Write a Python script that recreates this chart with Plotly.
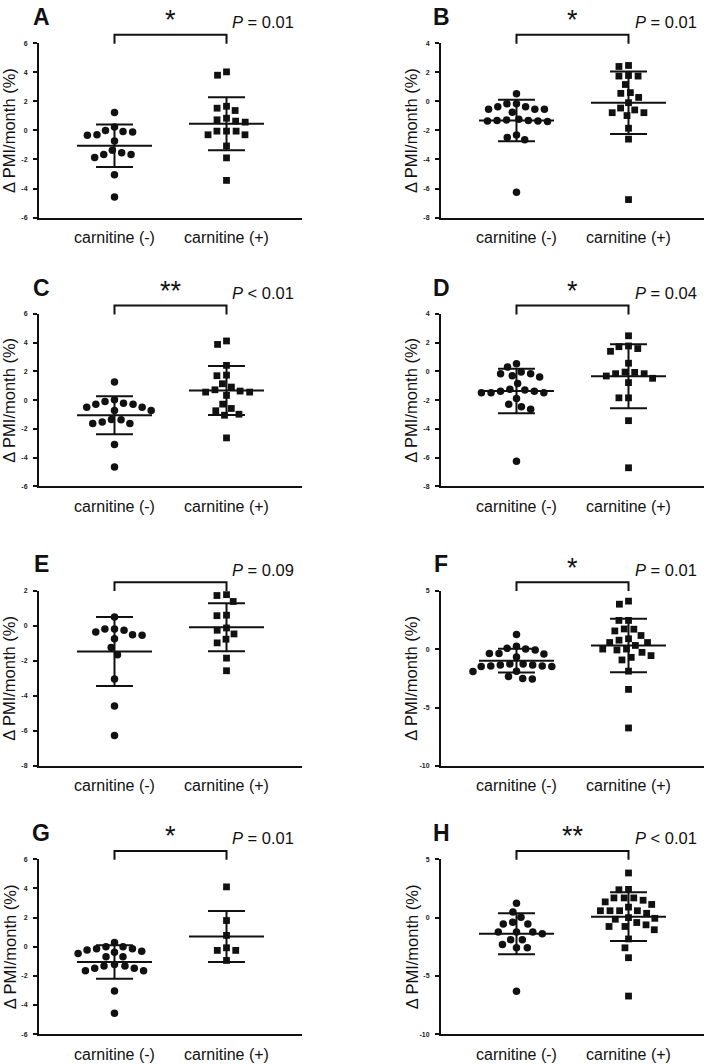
import numpy as np
import plotly.graph_objects as go

W, H = 709, 1064

# ---------------- data ----------------
categories = ["carnitine (-)", "carnitine (+)"]
panel_labels = ["A", "B", "C", "D", "E", "F", "G", "H"]
p_texts = ["= 0.01", "= 0.01", "< 0.01", "= 0.04", "= 0.09", "= 0.01", "= 0.01", "< 0.01"]
stars = ["*", "*", "**", "*", "", "*", "*", "**"]
y_ranges = [(-6, 6), (-8, 4), (-6, 6), (-8, 4), (-8, 2), (-10, 5), (-6, 6), (-10, 5)]
y_dticks = [2, 2, 2, 2, 2, 5, 2, 5]
y_title = "Δ PMI/month (%)"

A_minus = [1.23, -0.11, -0.34, 0.0, 0.23, -0.30, -0.07, -0.73, -1.37, -1.66, -1.87, -1.66, -1.53, -3.05, -4.58]
A_plus = [3.80, 4.03, 1.53, 1.66, 1.37, 0.57, 0.84, 0.64, 0.73, -0.30, -0.05, -0.05, -0.05, -0.30, -1.07, -1.89, -3.44]
B_minus = [0.53, -0.16, -0.37, -0.55, -0.55, -0.75, -0.55, -0.37, -0.16, -1.23, -1.32, -1.35, -1.38, -1.35, -1.32, -1.28, -2.49, -2.31, -2.65, -6.26]
B_plus = [2.47, 2.40, 1.78, 1.74, 1.74, 1.16, 0.55, 0.60, 0.27, -0.09, -0.59, -0.78, -0.98, -0.78, -0.46, -1.85, -2.60, -6.76]
C_minus = [1.26, 0.02, -0.09, -0.28, -0.49, -0.72, -0.72, -0.49, -0.28, -0.21, -1.35, -1.53, -1.63, -1.63, -1.37, -3.09, -4.65]
C_plus = [4.12, 3.88, 2.42, 1.70, 1.74, 1.14, 0.72, 0.56, 0.33, 0.56, 0.63, 0.91, -0.58, -0.98, -1.05, -0.74, -0.28, -2.63]
D_minus = [0.30, 0.53, -0.16, -0.30, -0.39, -0.16, -0.05, -0.85, -1.24, -1.38, -1.49, -1.49, -1.49, -1.38, -1.29, -1.89, -2.46, -2.28, -2.64, -6.25]
D_plus = [2.48, 1.77, 1.59, 1.40, 1.72, 0.57, -0.16, -0.48, -0.07, -0.32, -0.05, -0.16, -0.78, -1.84, -1.84, -3.43, -6.71]
E_minus = [0.49, -0.19, -0.26, -0.51, -0.74, -0.55, -0.36, -0.19, -1.25, -1.66, -3.04, -4.58, -6.26]
E_plus = [1.72, 1.77, 1.38, 0.57, 0.60, -0.13, -0.26, -0.47, -0.77, -0.98, -1.85, -2.57]
F_minus = [1.24, 0.06, -0.08, -0.37, 0.25, -0.42, -0.37, 0.00, -0.68, -1.27, -1.36, -1.44, -1.50, -1.50, -1.44, -1.36, -1.27, -1.92, -1.89, -2.34, -2.57, -2.51]
F_plus = [4.10, 3.84, 2.45, 2.45, 1.70, 1.55, 1.72, 1.16, 0.88, 0.56, 0.31, 0.56, 0.76, 0.00, -0.08, -0.28, 0.00, -0.56, -0.93, -0.71, -1.89, -3.45, -6.75]
G_minus = [0.30, -0.14, -0.23, -0.37, 0.00, 0.00, -0.46, -0.30, -0.14, -0.68, -0.68, -1.21, -1.32, -1.48, -1.64, -1.64, -1.48, -1.32, -3.04, -4.57]
G_plus = [4.11, 1.80, 0.78, -0.25, -0.07, -0.25, -0.94]
H_minus = [1.24, 0.48, 0.03, -0.54, -0.54, -0.39, -1.24, -1.24, -1.38, -1.24, -1.89, -1.89, -2.59, -2.59, -2.31, -6.31]
H_plus = [3.83, 2.39, 2.42, 1.13, 1.69, 1.49, 1.35, 1.69, 1.69, 0.59, 0.59, 0.90, 0.59, 0.59, -0.06, 0.37, -0.14, 0.00,
          -0.42, -0.76, -0.76, -1.04, -0.62, -1.83, -2.59, -3.44, -6.73]

mean_minus = [-1.05, -1.32, -1.05, -1.36, -1.47, -0.99, -1.05, -1.38]
sd_minus = [1.46, 1.43, 1.32, 1.55, 1.97, 1.01, 1.15, 1.76]
mean_plus = [0.46, -0.09, 0.67, -0.34, -0.09, 0.31, 0.71, 0.08]
sd_plus = [1.82, 2.15, 1.71, 2.23, 1.37, 2.29, 1.75, 2.09]

minus_groups = [A_minus, B_minus, C_minus, D_minus, E_minus, F_minus, G_minus, H_minus]
plus_groups = [A_plus, B_plus, C_plus, D_plus, E_plus, F_plus, G_plus, H_plus]

# ---------------- layout geometry (pixels) ----------------
col_x = [(39, 302), (441, 704)]
row_y = [(39.5, 215), (312, 485.5), (590.5, 767), (861, 1037)]
X_RANGE = (-0.674, 1.674)
FONT = "Liberation Sans, Arial, sans-serif"
INK = "#111111"


def py(px):
    return 1 - px / H


def px_x(px):
    return px / W


def swarm(values, ppu_y, ppu_x, d=9.6):
    vals = np.asarray(values, dtype=float)
    order = np.argsort(-vals, kind="stable")
    placed = []
    xs = np.zeros(len(vals))
    for i in order:
        yv = vals[i] * ppu_y
        cands = [0.0]
        for (qx, qy) in placed:
            dy = abs(qy - yv)
            if dy < d:
                dx = np.sqrt(d * d - dy * dy)
                cands += [qx + dx + 1e-6, qx - dx - 1e-6]
        cands.sort(key=lambda c: (round(abs(c), 6), c))
        for c in cands:
            if all((c - qx) ** 2 + (yv - qy) ** 2 >= d * d - 1e-6 for qx, qy in placed):
                xs[i] = c
                break
        placed.append((xs[i], yv))
    return xs / ppu_x


fig = go.Figure()
layout = dict(
    width=W, height=H, margin=dict(l=0, r=0, t=0, b=0),
    paper_bgcolor="white", plot_bgcolor="white", showlegend=False,
    font=dict(family=FONT, color=INK),
)
annotations = []
shapes = []

for k in range(8):
    r, c = divmod(k, 2)
    x0, x1 = col_x[c]
    y0, y1 = row_y[r]
    suffix = "" if k == 0 else str(k + 1)
    xa, ya = "x" + suffix, "y" + suffix
    ylo, yhi = y_ranges[k]
    ppu_y = (y1 - y0) / (yhi - ylo)
    ppu_x = (x1 - x0) / (X_RANGE[1] - X_RANGE[0])

    tickvals = list(range(ylo, yhi + 1, y_dticks[k]))
    layout["xaxis" + suffix] = dict(
        domain=[px_x(x0), px_x(x1)], range=list(X_RANGE), anchor=ya,
        showline=True, linecolor=INK, linewidth=2, ticks="", showticklabels=False,
        showgrid=False, zeroline=False, fixedrange=True,
    )
    layout["yaxis" + suffix] = dict(
        domain=[py(y1), py(y0)], range=[ylo, yhi], anchor=xa,
        showline=True, linecolor=INK, linewidth=2, ticks="outside", ticklen=4,
        tickwidth=1.5, tickcolor=INK, tickvals=tickvals, ticktext=[str(v) for v in tickvals],
        tickfont=dict(size=7, family=FONT, color="#222222", weight="bold"),
        ticklabelstandoff=4, showgrid=False, zeroline=False, fixedrange=True,
    )

    groups = [minus_groups[k], plus_groups[k]]
    means = [mean_minus[k], mean_plus[k]]
    sds = [sd_minus[k], sd_plus[k]]
    symbols = ["circle", "square"]
    sizes = [7.5, 6.8]
    for g in range(2):
        vals = groups[g]
        offs = swarm(vals, ppu_y, ppu_x)
        fig.add_trace(go.Scatter(
            x=g + offs, y=vals, mode="markers", xaxis=xa, yaxis=ya,
            marker=dict(symbol=symbols[g], size=sizes[g], color=INK, line=dict(width=0)),
            cliponaxis=False, hoverinfo="y",
        ))
        m, s = means[g], sds[g]
        hw, cw = 0.335, 0.165
        lx = [g - hw, g + hw, None, g, g, None, g - cw, g + cw, None, g - cw, g + cw]
        ly = [m, m, None, m - s, m + s, None, m + s, m + s, None, m - s, m - s]
        fig.add_trace(go.Scatter(
            x=lx, y=ly, mode="lines", xaxis=xa, yaxis=ya,
            line=dict(color=INK, width=2), cliponaxis=False, hoverinfo="skip",
        ))

    # category labels
    for g in range(2):
        annotations.append(dict(
            x=g, xref=xa, y=py(y1 + 20), yref="paper", text=categories[g],
            showarrow=False, xanchor="center", yanchor="middle",
            font=dict(size=16, family=FONT, color=INK),
        ))
    # y title
    title_x = 9.5 if c == 0 else 411.5
    annotations.append(dict(
        x=px_x(title_x), xref="paper", y=py((y0 + y1) / 2), yref="paper", text=y_title,
        textangle=-90, showarrow=False, xanchor="center", yanchor="middle",
        font=dict(size=16.5, family=FONT, color=INK),
    ))
    # panel letter
    letter_x = 41 if c == 0 else 441
    annotations.append(dict(
        x=px_x(letter_x), xref="paper", y=py(y0 - 26.5), yref="paper",
        text="<b>%s</b>" % panel_labels[k], showarrow=False,
        xanchor="center", yanchor="middle", font=dict(size=23, family=FONT, color=INK),
    ))
    # p value
    p_right = 295.5 if c == 0 else 699
    annotations.append(dict(
        x=px_x(p_right), xref="paper", y=py(y0 - 21), yref="paper",
        text="<i>P</i> %s" % p_texts[k], showarrow=False,
        xanchor="right", yanchor="middle", font=dict(size=16.5, family=FONT, color=INK),
    ))
    # significance stars
    if stars[k]:
        annotations.append(dict(
            x=0.5, xref=xa, y=py(y0 - 23), yref="paper", text=stars[k],
            showarrow=False, xanchor="center", yanchor="middle",
            font=dict(size=27, family=FONT, color=INK),
        ))
    # bracket
    btop, bbot = y0 - 8.5, y0 + 0.5
    shapes.append(dict(type="path", xref=xa, yref="paper",
                       path="M 0,%f L 0,%f L 1,%f L 1,%f" % (py(bbot), py(btop), py(btop), py(bbot)),
                       line=dict(color=INK, width=2)))

layout["annotations"] = annotations
layout["shapes"] = shapes
fig.update_layout(**layout)
fig.write_html(
    "out.html",
    config={"displayModeBar": False},
    post_script="document.body.style.margin='0';document.body.style.overflow='hidden';",
)
